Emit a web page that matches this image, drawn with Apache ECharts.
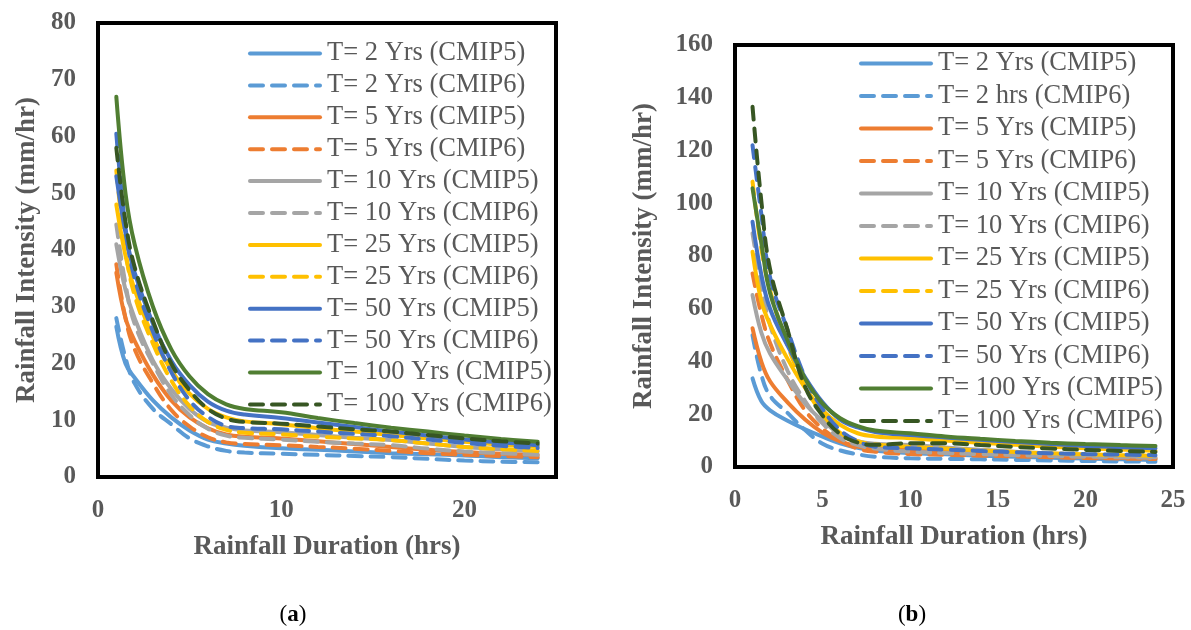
<!DOCTYPE html>
<html>
<head>
<meta charset="utf-8">
<title>IDF curves CMIP5 / CMIP6</title>
<script src="https://cdn.jsdelivr.net/npm/echarts@6/dist/echarts.min.js"></script>
<style>
  html, body { margin: 0; padding: 0; background: #fff; }
  #chart { width: 1191px; height: 630px; }
</style>
</head>
<body>
<div id="chart"></div>
<script>
// durations (hrs), same for both panels
var durations = [1, 1.5, 2, 3, 4, 5, 6, 7, 8, 10, 12, 14, 16, 18, 20, 22, 24];

// panel (a) intensities, mm/hr
var a_T2_c5   = [26.5, 20, 17.5, 13.5, 10.5, 8.2, 6.6, 5.9, 5.5, 5.05, 4.8, 4.5, 4.2, 4.0, 3.8, 3.5, 3.3];
var a_T2_c6   = [28, 21, 16.5, 12, 9.3, 6.8, 5.4, 4.6, 4.3, 4.1, 3.9, 3.7, 3.5, 3.2, 2.9, 2.7, 2.6];
var a_T5_c5   = [36, 28, 24, 18, 13.5, 10.5, 8.6, 7.5, 7.1, 6.8, 6.3, 5.8, 5.3, 4.8, 4.4, 4.1, 3.9];
var a_T5_c6   = [37.5, 28, 22.5, 16.5, 11.8, 8.9, 7.0, 6.1, 5.8, 5.6, 5.3, 5.0, 4.6, 4.2, 3.9, 3.7, 3.5];
var a_T10_c5  = [41, 33, 28, 20.5, 15.5, 12.0, 9.7, 8.7, 8.2, 7.9, 7.4, 6.9, 6.5, 5.9, 5.3, 4.9, 4.5];
var a_T10_c6  = [44.5, 34, 27, 20, 14.5, 10.9, 8.5, 7.3, 6.9, 6.6, 6.2, 5.9, 5.6, 5.0, 4.5, 4.2, 3.9];
var a_T25_c5  = [48, 39, 33, 24.7, 18.8, 14.7, 12.0, 10.5, 9.8, 9.3, 8.6, 8.0, 7.4, 6.8, 6.2, 5.7, 5.3];
var a_T25_c6  = [54, 40, 32, 23.5, 17, 12.5, 9.7, 8.3, 7.8, 7.5, 7.1, 6.8, 6.5, 5.9, 5.3, 4.9, 4.6];
var a_T50_c5  = [53, 43, 36, 27, 20.5, 16.2, 13.3, 11.7, 11.0, 10.4, 9.6, 8.8, 8.0, 7.3, 6.6, 6.1, 5.6];
var a_T50_c6  = [60.5, 44, 35, 25.6, 18.5, 13.5, 10.6, 9.0, 8.6, 8.4, 8.0, 7.6, 7.2, 6.6, 6.0, 5.5, 5.1];
var a_T100_c5 = [67, 50, 41, 30, 22.5, 17.7, 14.6, 12.8, 12.0, 11.4, 10.4, 9.5, 8.7, 8.0, 7.3, 6.7, 6.2];
var a_T100_c6 = [58, 45, 37, 27.5, 20, 15.3, 12.0, 10.3, 9.7, 9.4, 8.9, 8.4, 8.0, 7.4, 6.8, 6.3, 5.9];

// panel (b) intensities, mm/hr
var b_T2_c5   = [33.6, 25, 21.5, 17.5, 14.3, 11.5, 9.0, 7.3, 6.2, 5.3, 4.8, 4.3, 3.9, 3.5, 3.2, 2.9, 2.7];
var b_T2_c6   = [50, 35, 27, 20.5, 14, 8.8, 6.3, 4.8, 3.9, 3.3, 3.1, 2.9, 2.7, 2.5, 2.3, 2.1, 2.0];
var b_T5_c5   = [52.6, 40, 32.5, 24.5, 18, 13, 9.7, 7.8, 7.0, 6.4, 5.8, 5.2, 4.7, 4.2, 3.8, 3.5, 3.3];
var b_T5_c6   = [73.4, 58, 47, 33, 21.5, 14.5, 10, 7.0, 5.8, 4.9, 4.6, 4.3, 4.0, 3.7, 3.4, 3.2, 3.0];
var b_T10_c5  = [65.2, 51, 43, 33, 24, 17.5, 12.5, 9.8, 8.8, 8.3, 7.4, 6.5, 5.8, 5.1, 4.5, 4.1, 3.7];
var b_T10_c6  = [88.6, 69, 54, 36.5, 25, 16.5, 11, 8.3, 7.0, 5.8, 5.3, 4.9, 4.5, 4.2, 3.9, 3.7, 3.5];
var b_T25_c5  = [81.6, 63, 54, 41, 30, 21.5, 16, 12.8, 11.6, 10.9, 10.0, 9.2, 8.4, 7.7, 7.1, 6.6, 6.2];
var b_T25_c6  = [108.2, 83, 67, 46, 30.5, 20, 13, 9.8, 8.5, 7.7, 7.0, 6.3, 5.7, 5.2, 4.8, 4.5, 4.2];
var b_T50_c5  = [93, 73, 60, 46, 34, 24.5, 18, 15, 13.3, 12.1, 11.2, 10.3, 9.5, 8.7, 8.0, 7.5, 7.1];
var b_T50_c6  = [122, 96, 72, 52, 34, 22, 14, 9.8, 7.7, 7.1, 6.6, 6.1, 5.6, 5.2, 4.9, 4.7, 4.5];
var b_T100_c5 = [105.7, 85, 66, 48, 33.5, 24, 18.5, 15.5, 13.8, 12.8, 11.6, 10.7, 9.9, 9.2, 8.7, 8.3, 8.0];
var b_T100_c6 = [136.6, 101, 75, 52, 30.4, 19.5, 12.5, 9.3, 8.4, 9.0, 9.0, 8.3, 7.6, 7.0, 6.5, 6.1, 5.7];

var namesA = ['T= 2 Yrs (CMIP5)', 'T= 2 Yrs (CMIP6)', 'T= 5 Yrs (CMIP5)', 'T= 5 Yrs (CMIP6)',
  'T= 10 Yrs (CMIP5)', 'T= 10 Yrs (CMIP6)', 'T= 25 Yrs (CMIP5)', 'T= 25 Yrs (CMIP6)',
  'T= 50 Yrs (CMIP5)', 'T= 50 Yrs (CMIP6)', 'T= 100 Yrs (CMIP5)', 'T= 100 Yrs (CMIP6)'];
var namesB = ['T= 2 Yrs (CMIP5)', 'T= 2 hrs (CMIP6)', 'T= 5 Yrs (CMIP5)', 'T= 5 Yrs (CMIP6)',
  'T= 10 Yrs (CMIP5)', 'T= 10 Yrs (CMIP6)', 'T= 25 Yrs (CMIP5)', 'T= 25 Yrs (CMIP6)',
  'T= 50 Yrs (CMIP5)', 'T= 50 Yrs (CMIP6)', 'T= 100 Yrs (CMIP5)', 'T= 100 Yrs (CMIP6)'];

var valuesA = [a_T2_c5, a_T2_c6, a_T5_c5, a_T5_c6, a_T10_c5, a_T10_c6, a_T25_c5, a_T25_c6, a_T50_c5, a_T50_c6, a_T100_c5, a_T100_c6];
var valuesB = [b_T2_c5, b_T2_c6, b_T5_c5, b_T5_c6, b_T10_c5, b_T10_c6, b_T25_c5, b_T25_c6, b_T50_c5, b_T50_c6, b_T100_c5, b_T100_c6];

var colors = ['#5B9BD5', '#5B9BD5', '#ED7D31', '#ED7D31', '#A5A5A5', '#A5A5A5',
  '#FFC000', '#FFC000', '#4472C4', '#4472C4', '#507E32', '#375623'];

var serif = '"Liberation Serif", "Times New Roman", serif';
var grey = '#595959';

function makeSeries(names, values, idx) {
  return names.map(function (n, i) {
    return {
      name: n,
      type: 'line',
      xAxisIndex: idx,
      yAxisIndex: idx,
      symbol: 'none',
      smooth: 0.4,
      color: colors[i],
      lineStyle: {
        width: 4,
        color: colors[i],
        type: i % 2 ? [13, 9] : 'solid',
        cap: 'round'
      },
      data: durations.map(function (d, k) { return [d, values[i][k]]; })
    };
  });
}

function xAxisOf(grid, max, step, hideMax) {
  return {
    type: 'value', gridIndex: grid, min: 0, max: max, interval: step,
    name: 'Rainfall Duration (hrs)', nameLocation: 'middle', nameGap: 57,
    nameTextStyle: { fontFamily: serif, fontWeight: 'bold', fontSize: 27, color: grey },
    axisLine: { show: false }, axisTick: { show: false }, splitLine: { show: false },
    axisLabel: { showMaxLabel: !hideMax, margin: 21, fontFamily: serif, fontWeight: 'bold', fontSize: 25, color: grey }
  };
}

function yAxisOf(grid, max, step, gap) {
  return {
    type: 'value', gridIndex: grid, min: 0, max: max, interval: step,
    name: 'Rainfall Intensity (mm/hr)', nameLocation: 'middle', nameGap: gap,
    nameTextStyle: { fontFamily: serif, fontWeight: 'bold', fontSize: 27, color: grey },
    axisLine: { show: false }, axisTick: { show: false }, splitLine: { show: false },
    axisLabel: { margin: 22, fontFamily: serif, fontWeight: 'bold', fontSize: 25, color: grey }
  };
}

function legendOf(names, left, top, gap) {
  return {
    data: names, orient: 'vertical', left: left, top: top, padding: 0,
    itemWidth: 70, itemHeight: 26, itemGap: gap,
    itemStyle: { opacity: 0 },
    lineStyle: { width: 4 },
    textStyle: { fontFamily: serif, fontSize: 26.5, color: grey, padding: [0, 0, 0, 2] },
    selectedMode: false
  };
}

var chart = echarts.init(document.getElementById('chart'));
chart.setOption({
  animation: false,
  backgroundColor: '#fff',
  grid: [
    { left: 98, top: 23, width: 458, height: 454, show: true, borderColor: '#000', borderWidth: 4 },
    { left: 735, top: 45, width: 438, height: 422, show: true, borderColor: '#000', borderWidth: 4 }
  ],
  xAxis: [xAxisOf(0, 25, 10, true), xAxisOf(1, 25, 5, false)],
  yAxis: [yAxisOf(0, 80, 10, 57), yAxisOf(1, 160, 20, 77)],
  legend: [legendOf(namesA, 248, 40, 4.9), legendOf(namesB, 859, 50, 5.5)],
  series: makeSeries(namesA, valuesA, 0).concat(makeSeries(namesB, valuesB, 1)),
  graphic: [
    { type: 'text', x: 293, y: 615, style: { text: '{p|(}{b|a}{p|)}', textAlign: 'center', textVerticalAlign: 'middle',
      rich: { p: { fontFamily: serif, fontSize: 23, fill: '#000' }, b: { fontFamily: serif, fontSize: 23, fontWeight: 'bold', fill: '#000' } } } },
    { type: 'text', x: 912, y: 615, style: { text: '{p|(}{b|b}{p|)}', textAlign: 'center', textVerticalAlign: 'middle',
      rich: { p: { fontFamily: serif, fontSize: 23, fill: '#000' }, b: { fontFamily: serif, fontSize: 23, fontWeight: 'bold', fill: '#000' } } } }
  ]
});
</script>
</body>
</html>
